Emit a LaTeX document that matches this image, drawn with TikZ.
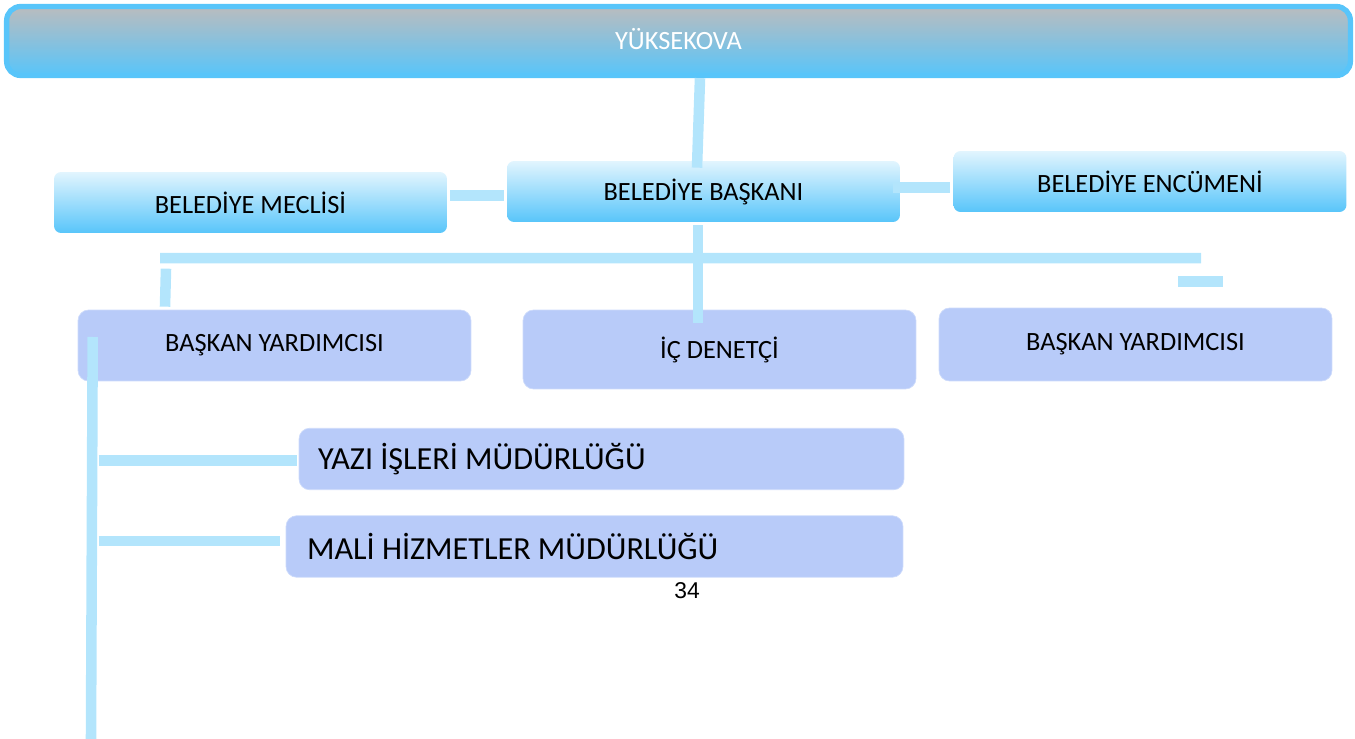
\documentclass[tikz,border=0pt]{standalone}
\usepackage{fontspec}
\setmainfont{Carlito}
\newfontfamily\pagefont{Liberation Sans}
\usetikzlibrary{calc}
\definecolor{barblue}{RGB}{179,229,252}
\definecolor{skyblue}{RGB}{88,197,250}
\definecolor{paleblue}{RGB}{226,245,254}
\definecolor{headgray}{RGB}{186,188,190}
\definecolor{lavender}{RGB}{184,203,249}
\begin{document}
\begin{tikzpicture}[x=0.02cm, y=-0.02cm,
		bar/.style={barblue, line width=6pt},
		bluebox/.style={rounded corners=4pt, top color=paleblue, bottom color=skyblue, inner sep=0pt, minimum width=7.86cm, minimum height=1.22cm, font=\fontsize{15pt}{18pt}\selectfont},
		lilabox/.style={rounded corners=6pt, fill=lavender, draw=lavender!70!white, inner sep=0pt, minimum width=7.86cm, font=\fontsize{15pt}{18pt}\selectfont},
		unitbox/.style={rounded corners=6pt, fill=lavender, draw=lavender!70!white, inner ysep=0pt, minimum height=1.23cm, font=\fontsize{18.3pt}{21pt}\selectfont}]
		\useasboundingbox (0,0) rectangle (1355,739);
		
		%top
		\node at (678.5, 41) [draw=skyblue, line width=3pt, rounded corners=8pt, top color=headgray, bottom color=skyblue, minimum width=26.88cm, minimum height=1.38cm, inner sep=0pt, text=white, font=\fontsize{15pt}{18pt}\selectfont] (yuk) {\raisebox{2.8pt}{YÜKSEKOVA}};
		
		\node at (250.5, 202.5) [bluebox] (meclis) {BELEDİYE MECLİSİ};
		\node at (703.5, 191.5) [bluebox] (baskan) {BELEDİYE BAŞKANI};
		\node at (1150, 181.5) [bluebox] (encumen) {BELEDİYE ENCÜMENİ};
		
		\node at (274.5, 345.5) [lilabox, minimum height=1.42cm] (yrd1) {BAŞKAN YARDIMCISI};
		\node at (719.5, 349.5) [lilabox, minimum height=1.58cm] (denetci) {İÇ DENETÇİ};
		\node at (1135.5, 344.5) [lilabox, minimum height=1.46cm] (yrd2) {BAŞKAN YARDIMCISI};
		
		\node at (601.5, 459) [unitbox, inner xsep=0.38cm] (yazi) {\makebox[11.34cm][l]{\raisebox{-1.5pt}{YAZI İŞLERİ MÜDÜRLÜĞÜ}}};
		\node at (594.5, 546.5) [unitbox, inner xsep=0.42cm] (mali) {\makebox[11.5cm][l]{\raisebox{-1pt}{MALİ HİZMETLER MÜDÜRLÜĞÜ}}};
		
		\node at (687, 591) [font=\pagefont\fontsize{13pt}{15pt}\selectfont] (sayfa) {34};
		\coordinate (alt) at (91, 739);
		
		%lines
		\draw[bar] ($(yuk.south)+(21.5,0)$) -- ($(baskan.north)+(-6.5,7)$);
		\draw[bar] ($(meclis.east)+(3,-7)$) -- ($(baskan.west)+(-3,4)$);
		\draw[bar] ($(baskan.east)+(-7,-4)$) -- ($(encumen.west)+(-3,6)$);
		\draw[bar] ($(baskan.south)+(-5.5,3)$) -- ($(denetci.north)+(-21.5,13)$);
		\draw[bar] ($(yrd1.north)+(-114.5,-51.5)$) -- ($(yrd2.north)+(65.5,-49.5)$);
		\draw[bar] ($(yrd2.north)+(42.5,-26)$) -- ($(yrd2.north)+(87.5,-26)$);
		\draw[bar] ($(yrd1.north)+(-108.5,-41)$) -- ($(yrd1.north)+(-109.5,-3)$);
		\draw[bar] ($(yrd1.west)+(15,-8.5)$) -- (alt);
		\draw[bar] ($(yazi.west)+(-200,1.5)$) -- ($(yazi.west)+(-2,1.5)$);
		\draw[bar] ($(mali.west)+(-187,-5.5)$) -- ($(mali.west)+(-6,-5.5)$);
\end{tikzpicture}
\end{document}
